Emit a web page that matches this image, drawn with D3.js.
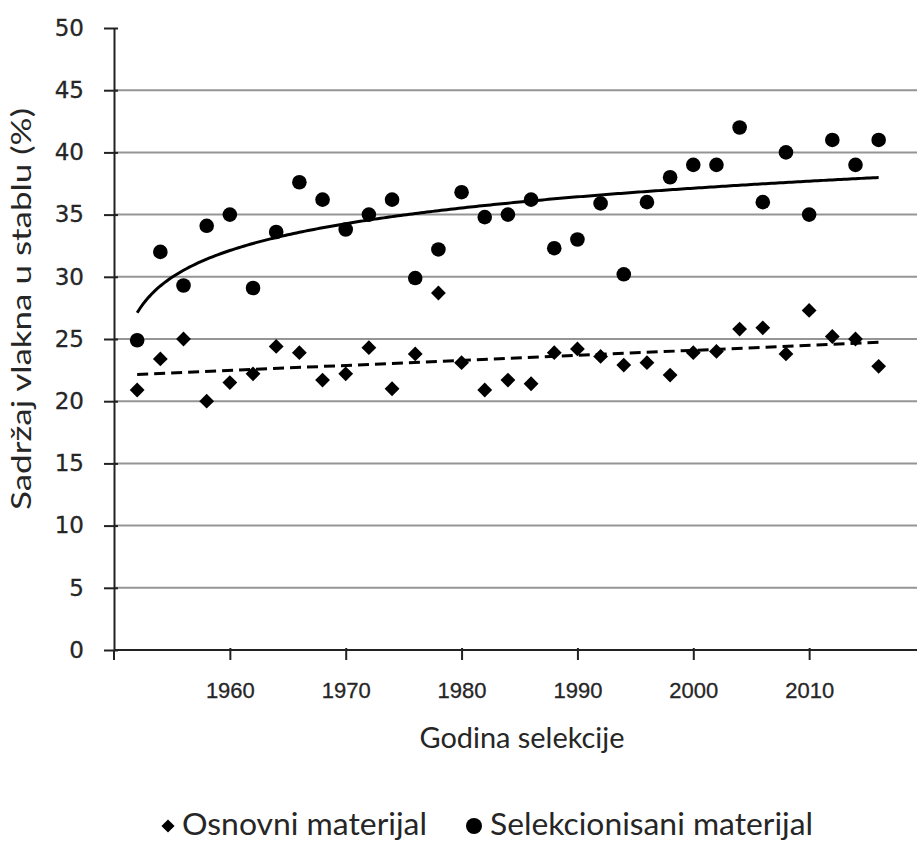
<!DOCTYPE html>
<html>
<head>
<meta charset="utf-8">
<script src="https://cdn.jsdelivr.net/npm/d3@7"></script>
<style>
  body { margin: 0; background: #fff; }
  svg { display: block; }
</style>
</head>
<body>
<div id="chart"></div>
<script>
// Godine selekcije (svake druge godine)
const years = [1952, 1954, 1956, 1958, 1960, 1962, 1964, 1966, 1968, 1970, 1972,
               1974, 1976, 1978, 1980, 1982, 1984, 1986, 1988, 1990, 1992, 1994,
               1996, 1998, 2000, 2002, 2004, 2006, 2008, 2010, 2012, 2014, 2016];
// Osnovni materijal (romb)
const osnovni = [20.9, 23.4, 25.0, 20.0, 21.5, 22.2, 24.4, 23.9, 21.7, 22.2, 24.3,
                 21.0, 23.8, 28.7, 23.1, 20.9, 21.7, 21.4, 23.9, 24.2, 23.6, 22.9,
                 23.1, 22.1, 23.9, 24.0, 25.8, 25.9, 23.8, 27.3, 25.2, 25.0, 22.8];
// Selekcionisani materijal (krug)
const selekcionisani = [24.9, 32.0, 29.3, 34.1, 35.0, 29.1, 33.6, 37.6, 36.2, 33.8, 35.0,
                        36.2, 29.9, 32.2, 36.8, 34.8, 35.0, 36.2, 32.3, 33.0, 35.9, 30.2,
                        36.0, 38.0, 39.0, 39.0, 42.0, 36.0, 40.0, 35.0, 41.0, 39.0, 41.0];
const xTicks = [1960, 1970, 1980, 1990, 2000, 2010];
const yTicks = [0, 5, 10, 15, 20, 25, 30, 35, 40, 45, 50];
const legendLabels = ['Osnovni materijal', 'Selekcionisani materijal'];

const w = 917;
const h = 842;
const textColor = '#262626';

const svg = d3.select('#chart')
              .append('svg')
              .attr('width', w)
              .attr('height', h);

const xScale = d3.scaleLinear().domain([1950, 2020]).range([114, 925]);
const yScale = d3.scaleLinear().domain([0, 50]).range([650, 28]);

// horizontal gridlines
svg.append('g')
   .selectAll('line')
   .data(yTicks.filter(d => d > 0 && d < 50))
   .enter()
   .append('line')
   .attr('x1', xScale(1950))
   .attr('x2', w)
   .attr('y1', d => yScale(d))
   .attr('y2', d => yScale(d))
   .attr('stroke', '#959595')
   .attr('stroke-width', 2);

// axes
const yAxis = d3.axisLeft(yScale).tickValues(yTicks).tickSizeInner(10).tickSizeOuter(0).tickPadding(8);
const gy = svg.append('g')
              .attr('transform', 'translate(' + xScale(1950) + ',0)')
              .call(yAxis);
gy.select('.domain').attr('stroke', '#222').attr('stroke-width', 2);
gy.selectAll('.tick line').attr('stroke', '#222').attr('stroke-width', 2).attr('x2', -10).attr('x1', 4);
gy.selectAll('.tick text')
  .attr('font-family', '"DejaVu Sans", sans-serif')
  .attr('font-size', 23)
  .attr('fill', textColor)
  .attr('stroke', textColor)
  .attr('stroke-width', 0.3)
  .attr('x', -30);

const xAxis = d3.axisBottom(xScale).tickValues(xTicks).tickFormat(d3.format('d')).tickSizeInner(10).tickSizeOuter(0).tickPadding(22);
const gx = svg.append('g')
              .attr('transform', 'translate(0,' + yScale(0) + ')')
              .call(xAxis);
gx.select('.domain').attr('stroke', '#222').attr('stroke-width', 2).attr('d', 'M' + xScale(1950) + ',0H' + w);
gx.selectAll('.tick line').attr('stroke', '#222').attr('stroke-width', 2).attr('y1', -2);
gx.selectAll('.tick text')
  .attr('font-family', '"Liberation Sans", Arial, sans-serif')
  .attr('font-size', 22)
  .attr('fill', textColor)
  .attr('stroke', textColor)
  .attr('stroke-width', 0.3);
// small tick where the x-axis crosses y
svg.append('line')
   .attr('x1', xScale(1950)).attr('x2', xScale(1950))
   .attr('y1', yScale(0)).attr('y2', yScale(0) + 10)
   .attr('stroke', '#222').attr('stroke-width', 2);

// trendlines: log fit for selected material, linear for base material
const tIdx = y => (y - 1950) / 2;
const lx = years.map(y => Math.log(tIdx(y)));
const fit = (xs, ys) => {
  const mx = d3.mean(xs), my = d3.mean(ys);
  const a = d3.sum(xs, (x, i) => (x - mx) * (ys[i] - my)) / d3.sum(xs, x => (x - mx) * (x - mx));
  return [a, my - a * mx];
};
const [aLog, bLog] = fit(lx, selekcionisani);
const [aLin, bLin] = fit(years, osnovni);
const fine = d3.range(years[0], years[years.length - 1] + 0.01, 0.25);
const line = d3.line().x(d => xScale(d[0])).y(d => yScale(d[1]));

svg.append('path')
   .datum(fine.map(y => [y, aLog * Math.log(tIdx(y)) + bLog]))
   .attr('d', line)
   .attr('fill', 'none')
   .attr('stroke', '#000')
   .attr('stroke-width', 3);

svg.append('path')
   .datum([years[0], years[years.length - 1]].map(y => [y, aLin * y + bLin]))
   .attr('d', line)
   .attr('fill', 'none')
   .attr('stroke', '#000')
   .attr('stroke-width', 3)
   .attr('stroke-dasharray', '11,6');

// markers
const diamond = d3.symbol().type(d3.symbolDiamond2).size(140);
svg.append('g')
   .selectAll('path')
   .data(years.map((y, i) => [y, osnovni[i]]))
   .enter()
   .append('path')
   .attr('d', diamond)
   .attr('transform', d => 'translate(' + xScale(d[0]) + ',' + yScale(d[1]) + ')')
   .attr('fill', '#000');

svg.append('g')
   .selectAll('circle')
   .data(years.map((y, i) => [y, selekcionisani[i]]))
   .enter()
   .append('circle')
   .attr('cx', d => xScale(d[0]))
   .attr('cy', d => yScale(d[1]))
   .attr('r', 7.3)
   .attr('fill', '#000');

// axis titles
svg.append('text')
   .attr('x', 522)
   .attr('y', 748)
   .attr('text-anchor', 'middle')
   .attr('font-family', 'Lato, sans-serif')
   .attr('font-size', 29)
   .attr('fill', textColor)
   .attr('textLength', 205)
   .attr('lengthAdjust', 'spacingAndGlyphs')
   .text('Godina selekcije');

svg.append('text')
   .attr('transform', 'translate(31,309) rotate(-90)')
   .attr('text-anchor', 'middle')
   .attr('font-family', 'Lato, sans-serif')
   .attr('font-size', 27)
   .attr('fill', textColor)
   .attr('textLength', 402)
   .attr('lengthAdjust', 'spacingAndGlyphs')
   .text('Sadržaj vlakna u stablu  (%)');

// legend
const legend = svg.append('g').attr('transform', 'translate(0,826)');
legend.append('path')
      .attr('d', d3.symbol().type(d3.symbolDiamond2).size(110))
      .attr('transform', 'translate(168,0)')
      .attr('fill', '#000');
legend.append('circle')
      .attr('cx', 474)
      .attr('cy', 0)
      .attr('r', 8)
      .attr('fill', '#000');
legend.selectAll('text')
      .data(legendLabels)
      .enter()
      .append('text')
      .attr('x', (d, i) => i === 0 ? 182 : 490)
      .attr('y', 9)
      .attr('font-family', 'Lato, sans-serif')
      .attr('font-size', 30)
      .attr('fill', textColor)
      .attr('textLength', (d, i) => i === 0 ? 245 : 323)
      .attr('lengthAdjust', 'spacingAndGlyphs')
      .text(d => d);
</script>
</body>
</html>
